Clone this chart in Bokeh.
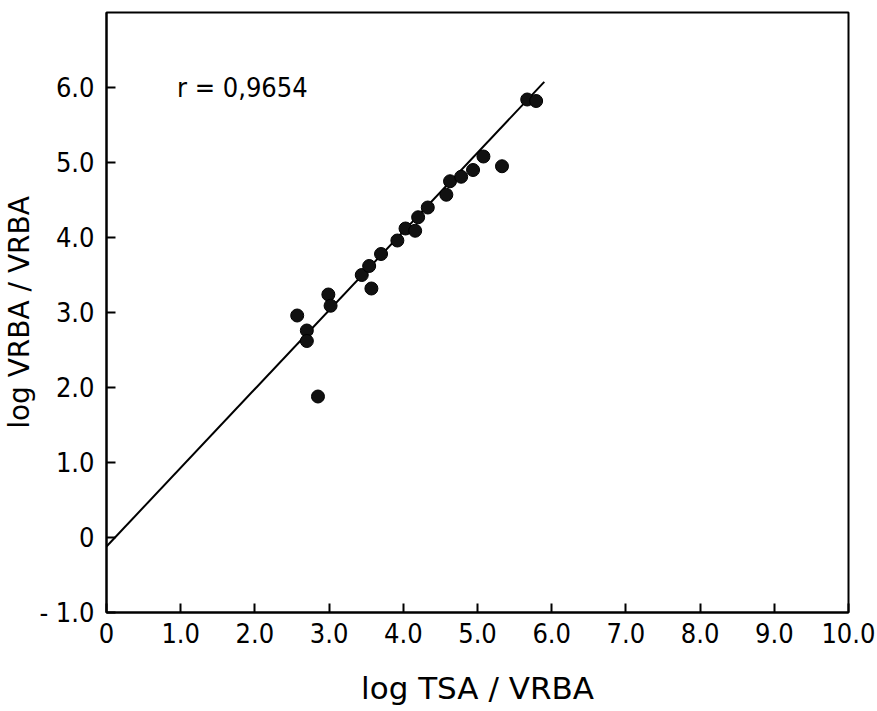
from bokeh.plotting import figure
from bokeh.models import FixedTicker, Range1d, Label
from bokeh.embed import file_html
from bokeh.resources import INLINE

# Data
x_vals = [2.57, 2.70, 2.70, 2.85, 2.99, 3.02, 3.44, 3.54, 3.57, 3.70, 3.92, 4.03,
          4.16, 4.20, 4.33, 4.58, 4.63, 4.78, 4.94, 5.08, 5.33, 5.67, 5.79]
y_vals = [2.96, 2.76, 2.62, 1.88, 3.24, 3.09, 3.50, 3.62, 3.32, 3.78, 3.96, 4.12,
          4.09, 4.27, 4.40, 4.57, 4.75, 4.81, 4.90, 5.08, 4.95, 5.84, 5.82]

fit_intercept = -0.12
fit_slope = 1.05
fit_x = [0.0, 5.9]
fit_y = [fit_intercept + fit_slope * v for v in fit_x]

x_ticks = [0, 1, 2, 3, 4, 5, 6, 7, 8, 9, 10]
x_tick_labels = ["0", "1.0", "2.0", "3.0", "4.0", "5.0", "6.0", "7.0", "8.0", "9.0", "10.0"]
y_ticks = [-1, 0, 1, 2, 3, 4, 5, 6]
y_tick_labels = ["- 1.0", "0", "1.0", "2.0", "3.0", "4.0", "5.0", "6.0"]

r_text = "r = 0,9654"

NARROW = "DejaVu Sans Condensed, Liberation Sans"
WIDE = "DejaVu Sans"

p = figure(frame_width=742, frame_height=600, output_backend="svg", toolbar_location=None,
           x_range=Range1d(0, 10), y_range=Range1d(-1, 7),
           min_border_left=98, min_border_top=12, min_border_right=27, min_border_bottom=80)

p.background_fill_color = "white"
p.border_fill_color = "white"
p.outline_line_color = "black"
p.outline_line_width = 2
p.xgrid.visible = False
p.ygrid.visible = False

p.line(fit_x, fit_y, line_color="black", line_width=2)
p.scatter(x_vals, y_vals, size=13, fill_color="#111111", line_color="black", line_width=1)

for ax, ticks, labels in ((p.xaxis[0], x_ticks, x_tick_labels), (p.yaxis[0], y_ticks, y_tick_labels)):
    ax.ticker = FixedTicker(ticks=ticks)
    ax.major_label_overrides = {t: l for t, l in zip(ticks, labels)}
    ax.minor_tick_line_color = None
    ax.major_tick_in = 9
    ax.major_tick_out = 0
    ax.major_tick_line_width = 2
    ax.axis_line_width = 2
    ax.major_label_text_font = NARROW
    ax.major_label_text_font_size = "27px"
    ax.major_label_text_color = "black"
    ax.axis_label_text_font = WIDE
    ax.axis_label_text_font_style = "normal"
    ax.axis_label_text_color = "black"

p.xaxis.axis_label = "log TSA / VRBA"
p.yaxis.axis_label = "log VRBA / VRBA"
p.xaxis.axis_label_text_font_size = "31px"
p.yaxis.axis_label_text_font_size = "28px"
p.xaxis.major_label_standoff = 10
p.yaxis.major_label_standoff = 12
p.xaxis.axis_label_standoff = 24
p.yaxis.axis_label_standoff = 0

p.add_layout(Label(x=0.95, y=6.0, text=r_text, text_font=NARROW, text_font_size="27px",
                   text_baseline="middle", text_align="left", text_color="black"))

open("out.html", "w").write(file_html(p, INLINE))
